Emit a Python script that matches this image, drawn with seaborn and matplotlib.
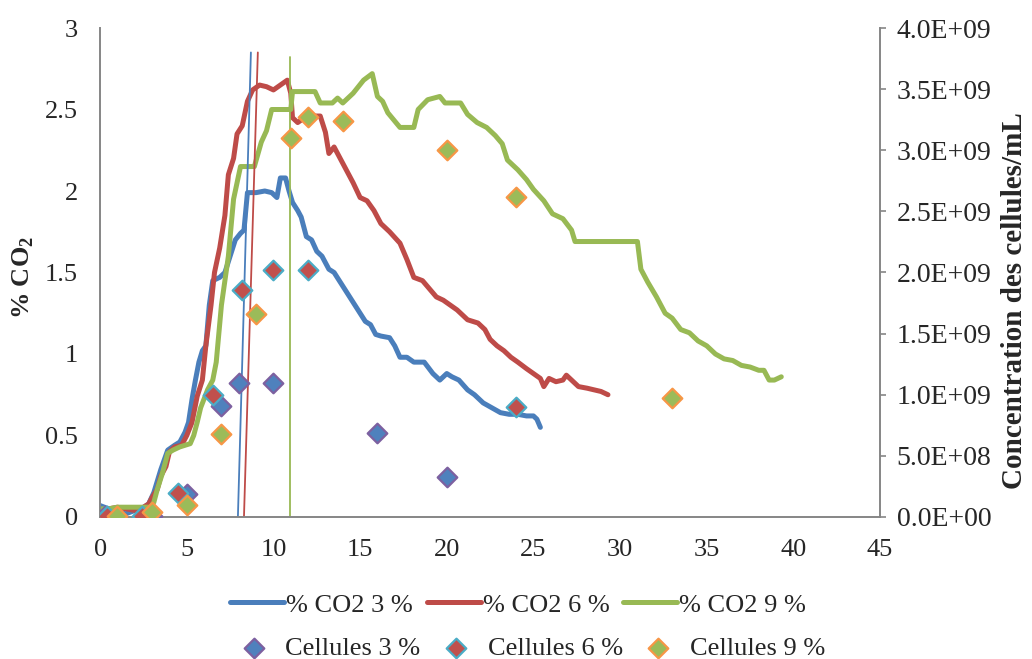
import numpy as np
import pandas as pd
import matplotlib
matplotlib.use("Agg")
import matplotlib.pyplot as plt
from matplotlib.ticker import FuncFormatter
import seaborn as sns

# % CO2 time series (x = time, y = % CO2)
co2_3_time = [0, 0.5, 1, 1.5, 2, 2.4, 2.8, 3.1, 3.3, 3.5,
              3.7, 3.9, 4.3, 4.6, 4.9, 5.1, 5.3, 5.5, 5.7, 5.9,
              6.1, 6.3, 6.5, 6.9, 7.2, 7.5, 7.8, 8.1, 8.3, 8.5,
              9.0, 9.5, 9.9, 10.2, 10.4, 10.7, 10.9, 11.1, 11.4, 11.6,
              11.9, 12.2, 12.5, 12.8, 13.2, 13.5, 13.8, 14.1, 14.4, 14.7,
              15.0, 15.3, 15.6, 15.9, 16.2, 16.7, 17.0, 17.3, 17.7, 18.1,
              18.7, 19.2, 19.6, 20.0, 20.3, 20.7, 21.2, 21.6, 22.1, 22.6,
              23.1, 23.6, 24.1, 24.6, 25.0, 25.2, 25.4]
co2_3_pct = [0.07, 0.05, 0.03, 0.02, 0.04, 0.05, 0.08, 0.15, 0.22, 0.29,
             0.35, 0.41, 0.44, 0.46, 0.52, 0.58, 0.72, 0.84, 0.95, 1.02,
             1.05, 1.30, 1.45, 1.47, 1.50, 1.60, 1.70, 1.74, 1.76, 1.99,
             1.99, 2.00, 1.99, 1.96, 2.08, 2.08, 2.00, 1.93, 1.88, 1.84,
             1.72, 1.70, 1.63, 1.60, 1.52, 1.50, 1.45, 1.40, 1.35, 1.30,
             1.25, 1.20, 1.18, 1.12, 1.11, 1.10, 1.05, 0.98, 0.98, 0.95,
             0.95, 0.88, 0.84, 0.88, 0.86, 0.84, 0.78, 0.75, 0.70, 0.67,
             0.64, 0.63, 0.63, 0.62, 0.62, 0.60, 0.55]

co2_6_time = [0.5, 1, 1.5, 2, 2.5, 2.8, 3.0, 3.3, 3.5, 3.8,
              4.0, 4.3, 4.7, 5.0, 5.3, 5.6, 5.9, 6.1, 6.4, 6.6,
              6.9, 7.2, 7.4, 7.7, 7.9, 8.2, 8.5, 8.8, 9.2, 9.6,
              10.0, 10.4, 10.8, 11.0, 11.1, 11.4, 11.8, 12.2, 12.7, 13.0,
              13.2, 13.5, 13.8, 14.2, 14.6, 15.0, 15.4, 15.8, 16.2, 16.7,
              17.3, 17.7, 18.1, 18.6, 19.0, 19.4, 19.8, 20.2, 20.6, 21.2,
              21.8, 22.2, 22.5, 22.9, 23.3, 23.7, 24.1, 24.6, 25.0, 25.4,
              25.6, 25.9, 26.3, 26.7, 26.9, 27.2, 27.6, 28.1, 28.5, 28.9,
              29.3]
co2_6_pct = [0.05, 0.06, 0.05, 0.04, 0.06, 0.08, 0.12, 0.17, 0.25, 0.31,
             0.40, 0.43, 0.44, 0.50, 0.58, 0.74, 0.84, 1.05, 1.30, 1.50,
             1.65, 1.85, 2.10, 2.20, 2.35, 2.40, 2.55, 2.62, 2.65, 2.64,
             2.62, 2.65, 2.68, 2.60, 2.45, 2.42, 2.45, 2.46, 2.46, 2.36,
             2.23, 2.27, 2.21, 2.13, 2.05, 1.96, 1.94, 1.88, 1.80, 1.75,
             1.68, 1.58, 1.47, 1.45, 1.40, 1.35, 1.33, 1.30, 1.27, 1.21,
             1.19, 1.15, 1.09, 1.05, 1.02, 0.98, 0.95, 0.91, 0.88, 0.85,
             0.80, 0.85, 0.83, 0.84, 0.87, 0.84, 0.80, 0.79, 0.78, 0.77,
             0.75]

co2_9_time = [0, 0.5, 1, 1.5, 2, 2.5, 2.9, 3.1, 3.3, 3.6,
              3.9, 4.2, 4.6, 5.2, 5.4, 5.6, 5.8, 6.2, 6.5, 6.7,
              7.0, 7.4, 7.7, 8.1, 8.5, 8.9, 9.3, 9.6, 9.9, 10.3,
              11.0, 11.1, 12.4, 12.7, 13.4, 13.7, 14.0, 14.6, 15.2, 15.7,
              16.0, 16.3, 16.6, 17.3, 18.1, 18.35, 18.9, 19.6, 19.9, 20.8,
              21.2, 21.75, 22.3, 22.8, 23.2, 23.5, 24.1, 24.6, 25.0, 25.6,
              26.1, 26.7, 27.2, 27.4, 31.0, 31.2, 31.6, 32.1, 32.6, 33.0,
              33.5, 34.0, 34.5, 35.0, 35.5, 36.0, 36.5, 37.0, 37.5, 38.0,
              38.3, 38.6, 38.9, 39.3]
co2_9_pct = [0.05, 0.05, 0.06, 0.06, 0.06, 0.06, 0.06, 0.09, 0.17, 0.27,
             0.39, 0.41, 0.43, 0.45, 0.50, 0.58, 0.67, 0.78, 0.84, 0.95,
             1.30, 1.60, 1.95, 2.15, 2.15, 2.15, 2.30, 2.37, 2.50, 2.50,
             2.50, 2.61, 2.61, 2.54, 2.54, 2.57, 2.54, 2.60, 2.68, 2.72,
             2.58, 2.55, 2.48, 2.39, 2.39, 2.50, 2.56, 2.58, 2.54, 2.54,
             2.47, 2.42, 2.39, 2.34, 2.29, 2.19, 2.13, 2.07, 2.01, 1.94,
             1.86, 1.83, 1.76, 1.69, 1.69, 1.52, 1.44, 1.35, 1.25, 1.22,
             1.15, 1.13, 1.08, 1.05, 1.00, 0.97, 0.96, 0.93, 0.92, 0.90,
             0.90, 0.84, 0.84, 0.86]

# thin fitted lines
fit_3_time = [7.95, 8.7]
fit_3_pct = [0, 2.85]
fit_6_time = [8.3, 9.1]
fit_6_pct = [0, 2.85]
fit_9_time = [10.95, 10.95]
fit_9_pct = [0, 2.82]

# cell concentration (cells/mL)
cell_3_time = [0.3, 3, 5, 7, 8, 10, 16, 20]
cell_3_conc = [1e7, 1e7, 1.9e8, 9.1e8, 1.1e9, 1.1e9, 6.9e8, 3.3e8]
cell_6_time = [0.4, 2.4, 4.5, 6.5, 8.2, 10, 12, 24]
cell_6_conc = [1e7, 1e7, 1.95e8, 1.0e9, 1.86e9, 2.02e9, 2.02e9, 9.0e8]
cell_9_time = [1, 3, 5, 7, 9, 11, 12, 14, 20, 24, 33]
cell_9_conc = [1e7, 4e7, 1e8, 6.8e8, 1.66e9, 3.1e9, 3.27e9, 3.24e9, 3.0e9, 2.62e9, 9.7e8]

line_colors = ['#4A7EBB', '#BE4B48', '#98B954']
marker_fill = ['#4F81BD', '#C0504D', '#9BBB59']
marker_edge = ['#7D60A0', '#4BACC6', '#F79646']
grey = '#868686'

sns.set_style("white")
plt.rcParams['font.family'] = ['Liberation Serif', 'DejaVu Serif']
plt.rcParams['mathtext.fontset'] = 'custom'
plt.rcParams['mathtext.rm'] = 'Liberation Serif'
plt.rcParams['mathtext.bf'] = 'Liberation Serif:bold'

fig = plt.figure(figsize=(10.32, 6.59), dpi=100)
ax = fig.add_axes([0.097, 0.2155, 0.7558, 0.742])

co2_series = [(co2_3_time, co2_3_pct, '% CO2 3 %'),
              (co2_6_time, co2_6_pct, '% CO2 6 %'),
              (co2_9_time, co2_9_pct, '% CO2 9 %')]
for (t, p, lab), c in zip(co2_series, line_colors):
    sns.lineplot(x=t, y=p, ax=ax, color=c, linewidth=3.6, sort=False,
                 estimator=None, label=lab, solid_capstyle='round')

fits = [(fit_3_time, fit_3_pct), (fit_6_time, fit_6_pct), (fit_9_time, fit_9_pct)]
for (t, p), c in zip(fits, line_colors):
    ax.plot(t, p, color=c, linewidth=1.3, label='_nolegend_')

line_handles, line_labels = ax.get_legend_handles_labels()
if ax.get_legend() is not None:
    ax.get_legend().remove()

ax.set_xlim(0, 45)
ax.set_ylim(0, 3)
ax.set_xticks(np.arange(0, 46, 5))
ax.set_yticks(np.arange(0, 3.01, 0.5))
ax.yaxis.set_major_formatter(FuncFormatter(lambda v, pos: '%g' % v))
ax.tick_params(axis='x', length=0, pad=16, labelsize=19)
ax.tick_params(axis='y', length=0, pad=16, labelsize=19)
ax.set_ylabel('% CO$_\\mathbf{2}$', fontsize=19, fontweight='bold')
ax.yaxis.set_label_coords(-0.082, 0.49)
for s in ['top', 'right']:
    ax.spines[s].set_visible(False)
for s in ['left', 'bottom']:
    ax.spines[s].set_color(grey)
    ax.spines[s].set_linewidth(1.4)

ax2 = ax.twinx()
cell_series = [(cell_3_time, cell_3_conc, 'Cellules 3 %'),
               (cell_6_time, cell_6_conc, 'Cellules 6 %'),
               (cell_9_time, cell_9_conc, 'Cellules 9 %')]
for (t, v, lab), fc, ec in zip(cell_series, marker_fill, marker_edge):
    sns.scatterplot(x=t, y=v, ax=ax2, marker='D', s=100, color=fc,
                    edgecolor=ec, linewidth=1.6, label=lab, zorder=5)
cell_handles, cell_labels = ax2.get_legend_handles_labels()
if ax2.get_legend() is not None:
    ax2.get_legend().remove()

ax2.set_ylim(0, 4e9)
ax2.set_yticks(np.arange(0, 4.01e9, 5e8))
ax2.yaxis.set_major_formatter(FuncFormatter(lambda v, pos: '%.1E' % v))
ax2.tick_params(axis='y', length=4, width=1.2, color=grey, pad=8, labelsize=20)
ax2.set_ylabel('Concentration des cellules/mL', fontsize=21, fontweight='bold')
ax2.yaxis.set_label_coords(1.155, 0.442)
for s in ['top', 'left', 'bottom']:
    ax2.spines[s].set_visible(False)
ax2.spines['right'].set_color(grey)
ax2.spines['right'].set_linewidth(1.4)

fig.legend(line_handles, line_labels, loc='center', bbox_to_anchor=(0.502, 0.082),
           ncol=3, frameon=False, fontsize=19, handlelength=2.05,
           handletextpad=0.08, columnspacing=0.52)
fig.legend(cell_handles, cell_labels, loc='center', bbox_to_anchor=(0.515, 0.017),
           ncol=3, frameon=False, fontsize=19, handlelength=1.2,
           handletextpad=0.6, columnspacing=0.75)

fig.savefig('out.png', dpi=100)
